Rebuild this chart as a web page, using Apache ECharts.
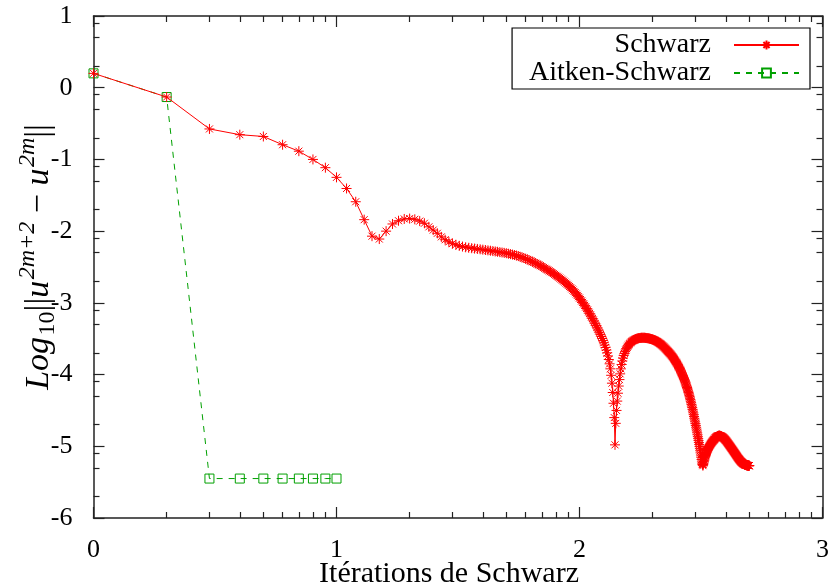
<!DOCTYPE html>
<html>
<head>
<meta charset="utf-8">
<script src="https://cdn.jsdelivr.net/npm/echarts@6/dist/echarts.min.js"></script>
<style>
  html, body { margin: 0; padding: 0; background: #ffffff; }
  #chart { width: 832px; height: 587px; }
</style>
</head>
<body>
<div id="chart"></div>
<script>
// log10 of the residual between two consecutive Schwarz iterates, iterations 1..500
const schwarzResidual = [
  0.20, -0.13, -0.575, -0.655, -0.68, -0.795, -0.885, -1.00, -1.115, -1.25,
  -1.405, -1.59, -1.84, -2.07, -2.11, -2.00, -1.90, -1.855, -1.83, -1.825,
  -1.835, -1.86, -1.89, -1.94, -1.985, -2.03, -2.08, -2.12, -2.15, -2.175,
  -2.19, -2.205, -2.215, -2.225, -2.232, -2.238, -2.243, -2.248, -2.253, -2.258,
  -2.263, -2.268, -2.273, -2.278, -2.283, -2.288, -2.293, -2.298, -2.303, -2.308,
  -2.315, -2.321, -2.327, -2.333, -2.34, -2.348, -2.357, -2.366, -2.375, -2.385,
  -2.395, -2.405, -2.415, -2.426, -2.437, -2.448, -2.459, -2.47, -2.482, -2.494,
  -2.506, -2.518, -2.53, -2.542, -2.554, -2.566, -2.578, -2.59, -2.603, -2.616,
  -2.629, -2.642, -2.655, -2.669, -2.683, -2.697, -2.711, -2.726, -2.741, -2.756,
  -2.772, -2.788, -2.805, -2.822, -2.84, -2.858, -2.876, -2.895, -2.914, -2.933,
  -2.953, -2.973, -2.993, -3.014, -3.035, -3.057, -3.079, -3.101, -3.124, -3.147,
  -3.17, -3.194, -3.218, -3.242, -3.266, -3.29, -3.315, -3.34, -3.365, -3.39,
  -3.416, -3.442, -3.469, -3.497, -3.526, -3.556, -3.588, -3.622, -3.658, -3.697,
  -3.74, -3.79, -3.85, -3.92, -4.01, -4.12, -4.25, -4.40, -4.60, -4.98,
  -4.68, -4.50, -4.37, -4.26, -4.16, -4.07, -3.99, -3.92, -3.86, -3.81,
  -3.77, -3.735, -3.705, -3.68, -3.658, -3.638, -3.62, -3.604, -3.59, -3.578,
  -3.567, -3.557, -3.548, -3.54, -3.533, -3.527, -3.521, -3.516, -3.511, -3.507,
  -3.503, -3.5, -3.497, -3.495, -3.493, -3.491, -3.49, -3.489, -3.488, -3.487,
  -3.487, -3.487, -3.487, -3.487, -3.487, -3.488, -3.489, -3.49, -3.491, -3.492,
  -3.493, -3.494, -3.496, -3.498, -3.5, -3.502, -3.504, -3.506, -3.508, -3.51,
  -3.513, -3.516, -3.519, -3.522, -3.526, -3.53, -3.534, -3.538, -3.542, -3.546,
  -3.551, -3.556, -3.561, -3.566, -3.571, -3.576, -3.582, -3.588, -3.594, -3.6,
  -3.606, -3.612, -3.618, -3.625, -3.632, -3.639, -3.646, -3.653, -3.66, -3.667,
  -3.674, -3.681, -3.688, -3.695, -3.702, -3.709, -3.716, -3.724, -3.732, -3.74,
  -3.748, -3.756, -3.764, -3.773, -3.782, -3.791, -3.8, -3.809, -3.819, -3.829,
  -3.839, -3.849, -3.859, -3.87, -3.881, -3.892, -3.903, -3.914, -3.926, -3.938,
  -3.95, -3.962, -3.975, -3.988, -4.001, -4.014, -4.028, -4.042, -4.056, -4.07,
  -4.085, -4.1, -4.115, -4.131, -4.147, -4.163, -4.18, -4.197, -4.215, -4.233,
  -4.251, -4.27, -4.289, -4.309, -4.329, -4.35, -4.371, -4.393, -4.415, -4.438,
  -4.461, -4.485, -4.509, -4.534, -4.559, -4.584, -4.609, -4.634, -4.659, -4.684,
  -4.709, -4.734, -4.76, -4.786, -4.812, -4.839, -4.866, -4.893, -4.92, -4.948,
  -4.976, -5.004, -5.033, -5.062, -5.092, -5.122, -5.153, -5.185, -5.218, -5.245,
  -5.255, -5.27, -5.255, -5.235, -5.215, -5.195, -5.177, -5.16, -5.144, -5.129,
  -5.115, -5.102, -5.09, -5.078, -5.067, -5.056, -5.046, -5.036, -5.027, -5.018,
  -5.01, -5.002, -4.994, -4.987, -4.98, -4.973, -4.966, -4.96, -4.954, -4.948,
  -4.942, -4.936, -4.931, -4.926, -4.921, -4.916, -4.911, -4.907, -4.903, -4.899,
  -4.89, -4.886, -4.882, -4.878, -4.874, -4.871, -4.868, -4.865, -4.862, -4.86,
  -4.858, -4.856, -4.855, -4.854, -4.853, -4.853, -4.853, -4.854, -4.855, -4.856,
  -4.857, -4.859, -4.861, -4.863, -4.865, -4.867, -4.87, -4.873, -4.876, -4.879,
  -4.882, -4.885, -4.889, -4.893, -4.897, -4.901, -4.905, -4.909, -4.913, -4.917,
  -4.921, -4.926, -4.931, -4.936, -4.941, -4.946, -4.951, -4.956, -4.961, -4.966,
  -4.971, -4.976, -4.981, -4.986, -4.991, -4.996, -5.001, -5.006, -5.011, -5.016,
  -5.021, -5.026, -5.031, -5.036, -5.041, -5.046, -5.051, -5.056, -5.061, -5.066,
  -5.071, -5.076, -5.081, -5.086, -5.091, -5.096, -5.101, -5.106, -5.111, -5.116,
  -5.121, -5.126, -5.131, -5.136, -5.141, -5.146, -5.151, -5.156, -5.161, -5.166,
  -5.17, -5.174, -5.178, -5.182, -5.186, -5.19, -5.194, -5.198, -5.202, -5.206,
  -5.21, -5.213, -5.216, -5.219, -5.222, -5.225, -5.228, -5.231, -5.234, -5.237,
  -5.239, -5.241, -5.243, -5.245, -5.247, -5.249, -5.251, -5.253, -5.255, -5.257,
  -5.258, -5.259, -5.26, -5.261, -5.262, -5.263, -5.264, -5.265, -5.266, -5.267,
  -5.267, -5.268, -5.268, -5.269, -5.269, -5.27, -5.27, -5.27, -5.27, -5.27
];

// Same quantity with Aitken acceleration, iterations 1..10
const aitkenResidual = [0.20, -0.13, -5.45, -5.45, -5.45, -5.45, -5.45, -5.45, -5.45, -5.45];

// Axis ranges (decades of the iteration count / of the residual)
const xRange = [0, 3];
const yRange = [-6, 1];
// Mantissas used for the minor ticks inside each decade
const xMinorMantissas = [2, 3, 4, 5, 6, 7, 8, 9];
const yMinorMantissas = [2, 5, 8];

const seriesNames = ['Schwarz', 'Aitken-Schwarz'];
const xTitle = 'Itérations de Schwarz';

const FONT = 'Liberation Serif';
const RED = '#ff0000';
const GREEN = '#00a000';
const AXIS = '#222222';

// x position of iteration n is log10(n)
const toPoints = (vals) => vals.map((v, i) => [Math.log10(i + 1), v]);

const minorTicks = (lo, hi, mantissas) => {
  const out = [];
  for (let d = lo; d < hi; d++) {
    mantissas.forEach((m) => out.push(d + Math.log10(m)));
  }
  return out;
};
const xMinor = minorTicks(xRange[0], xRange[1], xMinorMantissas);
const yMinor = minorTicks(yRange[0], yRange[1], yMinorMantissas);

// asterisk marker: a "+" overlaid with an "x"
const starSymbol = 'path://M0,5L10,5M5,0L5,10M1.5,1.5L8.5,8.5M1.5,8.5L8.5,1.5';

function frameAxis(kind, position, showLabels, ticks) {
  const base = {
    type: 'value',
    position: position,
    min: kind === 'x' ? xRange[0] : yRange[0],
    max: kind === 'x' ? xRange[1] : yRange[1],
    interval: 1,
    splitLine: { show: false },
    axisLine: { show: true, onZero: false, lineStyle: { color: AXIS, width: 1.5 } },
    axisTick: { show: true, inside: true, length: 11, lineStyle: { color: AXIS, width: 1.2 } },
    axisLabel: {
      show: showLabels,
      fontFamily: FONT,
      fontSize: 26,
      color: '#000',
      margin: kind === 'x' ? 19 : 21
    }
  };
  if (ticks) {
    base.axisLine = { show: false, onZero: false };
    base.axisLabel = { show: false };
    base.axisTick = {
      show: true, inside: true, length: 6,
      customValues: ticks,
      lineStyle: { color: AXIS, width: 1.2 }
    };
  }
  return base;
}

// ---- y-axis title: Log_10 ||u^{2m+2} - u^{2m}||, laid out token by token ----
const measureCtx = document.createElement('canvas').getContext('2d');
function textWidth(str, size, italic) {
  measureCtx.font = (italic ? 'italic ' : '') + size + 'px "' + FONT + '"';
  return measureCtx.measureText(str).width;
}
const MAIN = 34;
const SMALL = 24;
// [text, size, italic, baseline shift (negative = raised)]
const yTitleTokens = [
  ['Log', MAIN, true, 0],
  ['10', SMALL, false, 0.15 * MAIN],
  ['||', MAIN, false, 0],
  ['u', MAIN, true, 0],
  ['2m+2', SMALL, true, -0.46 * MAIN],
  [' \u2212 ', MAIN, false, 0],
  ['u', MAIN, true, 0],
  ['2m', SMALL, true, -0.46 * MAIN],
  ['||', MAIN, false, 0]
];
function buildYTitle() {
  const widths = yTitleTokens.map((t) => textWidth(t[0], t[1], t[2]) + (t[2] && t[1] === MAIN ? 1.5 : 0));
  const total = widths.reduce((a, b) => a + b, 0);
  let cursor = -total / 2;
  return yTitleTokens.map((t, k) => {
    const el = {
      type: 'text',
      x: cursor,
      // canvas "middle" sits about 0.34 em above the alphabetic baseline
      y: t[3] - 0.34 * t[1],
      style: {
        text: t[0],
        fontFamily: FONT,
        fontStyle: t[2] ? 'italic' : 'normal',
        fontSize: t[1],
        fill: '#000',
        align: 'left',
        verticalAlign: 'middle'
      }
    };
    cursor += widths[k];
    return el;
  });
}

const chart = echarts.init(document.getElementById('chart'), null, { renderer: 'canvas' });

chart.setOption({
  animation: false,
  backgroundColor: '#ffffff',
  grid: { left: 93.5, right: 8.5, top: 16, bottom: 69, containLabel: false },
  xAxis: [
    frameAxis('x', 'bottom', true),
    frameAxis('x', 'top', false),
    frameAxis('x', 'bottom', false, xMinor),
    frameAxis('x', 'top', false, xMinor)
  ],
  yAxis: [
    frameAxis('y', 'left', true),
    frameAxis('y', 'right', false),
    frameAxis('y', 'left', false, yMinor),
    frameAxis('y', 'right', false, yMinor)
  ],
  legend: {
    data: seriesNames,
    orient: 'vertical',
    align: 'right',
    right: 22,
    top: 28,
    itemWidth: 65,
    itemHeight: 11,
    itemGap: 0,
    padding: [3, 10, 2, 17],
    borderColor: '#000',
    borderWidth: 1.2,
    borderRadius: 0,
    backgroundColor: '#ffffff',
    selectedMode: false,
    textStyle: { fontFamily: FONT, fontSize: 28, color: '#000', padding: [0, 18, 0, 0] }
  },
  graphic: [{
    type: 'group',
    x: 51,
    y: 257,
    rotation: Math.PI / 2,
    children: buildYTitle()
  }, {
    type: 'text',
    x: 449,
    y: 589,
    style: {
      text: xTitle,
      fontFamily: FONT,
      fontSize: 30,
      fill: '#000',
      align: 'center',
      verticalAlign: 'bottom'
    }
  }],
  series: [
    {
      name: seriesNames[0],
      type: 'line',
      data: toPoints(schwarzResidual),
      symbol: starSymbol,
      symbolSize: 10,
      showAllSymbol: true,
      lineStyle: { color: RED, width: 1 },
      itemStyle: { color: RED, borderColor: RED, borderWidth: 1 },
      emphasis: { disabled: true },
      z: 3
    },
    {
      name: seriesNames[1],
      type: 'line',
      data: toPoints(aitkenResidual),
      symbol: 'rect',
      symbolSize: 9,
      lineStyle: { color: GREEN, width: 1, type: [6, 6] },
      itemStyle: { color: 'rgba(0,0,0,0)', borderColor: GREEN, borderWidth: 1 },
      emphasis: { disabled: true },
      z: 2
    }
  ]
});
</script>
</body>
</html>
